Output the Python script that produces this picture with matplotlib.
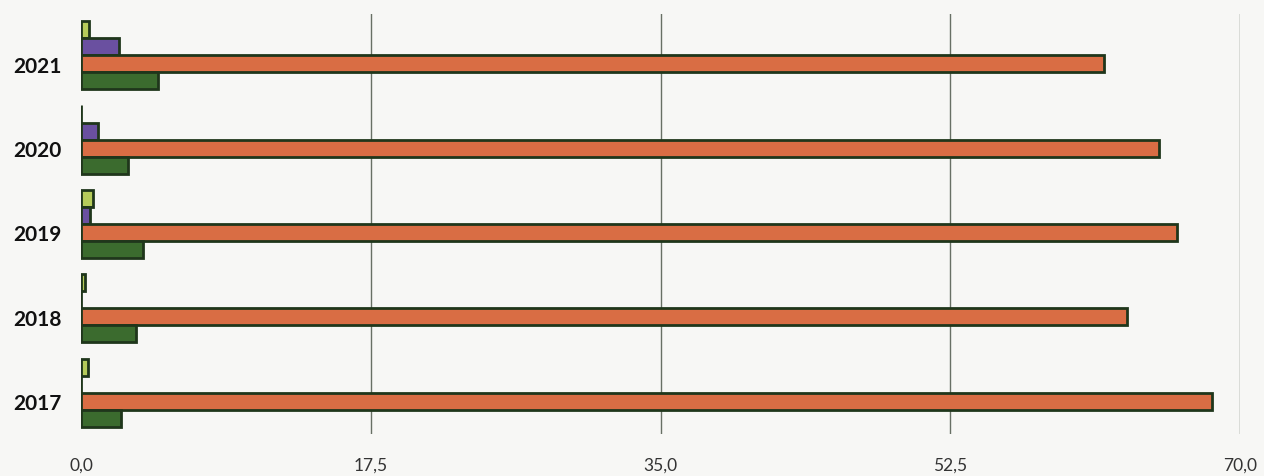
import numpy as np
import matplotlib.pyplot as plt
from matplotlib.ticker import FuncFormatter

# ==========================================
# DATA
# ==========================================

years = ["2017", "2018", "2019", "2020", "2021"]

light_green = [0.4, 0.25, 0.7, 0.0, 0.5]
purple = [0.0, 0.0, 0.55, 1.0, 2.3]
orange = [68.3, 63.2, 66.2, 65.1, 61.8]
dark_green = [2.4, 3.3, 3.75, 2.85, 4.65]

series = [light_green, purple, orange, dark_green]
colors = ["#b5cc5a", "#6a50a0", "#d96d44", "#3b6b2e"]
offsets = [2, 1, 0, -1]

x_ticks = [0, 17.5, 35, 52.5, 70]

# ==========================================
# FIGURE
# ==========================================

bg = "#f7f7f5"
fig = plt.figure(figsize=(12.64, 4.77), dpi=100)
fig.patch.set_facecolor(bg)
ax = fig.add_axes([0.0641, 0.088, 0.9169, 0.8806])
ax.set_facecolor(bg)

pos = np.arange(len(years))
h = 0.202

for vals, col, off in zip(series, colors, offsets):
    ax.barh(
        pos + off * h,
        vals,
        height=h,
        color=col,
        edgecolor="#1f361b",
        linewidth=2.0,
        zorder=3
    )

ax.set_xlim(0, 70)
ax.set_ylim(-0.39, 4.59)

ax.set_xticks(x_ticks)
ax.xaxis.set_major_formatter(FuncFormatter(lambda v, p: f"{v:.1f}".replace(".", ",")))
ax.set_yticks(pos)
ax.set_yticklabels(years)

for t in x_ticks[1:]:
    ax.axvline(t, color="#687065", linewidth=1.0, zorder=1)

for s in ax.spines.values():
    s.set_visible(False)

ax.tick_params(axis="both", length=0)
ax.tick_params(axis="x", pad=16, labelsize=12.5, labelcolor="#333333")
ax.tick_params(axis="y", pad=14)

for lab in ax.get_xticklabels():
    lab.set_fontfamily("Lato")
for lab in ax.get_yticklabels():
    lab.set_fontfamily("Lato")
    lab.set_fontweight("bold")
    lab.set_fontsize(15)
    lab.set_color("#111111")

fig.savefig("out.png", dpi=100, facecolor=bg)
